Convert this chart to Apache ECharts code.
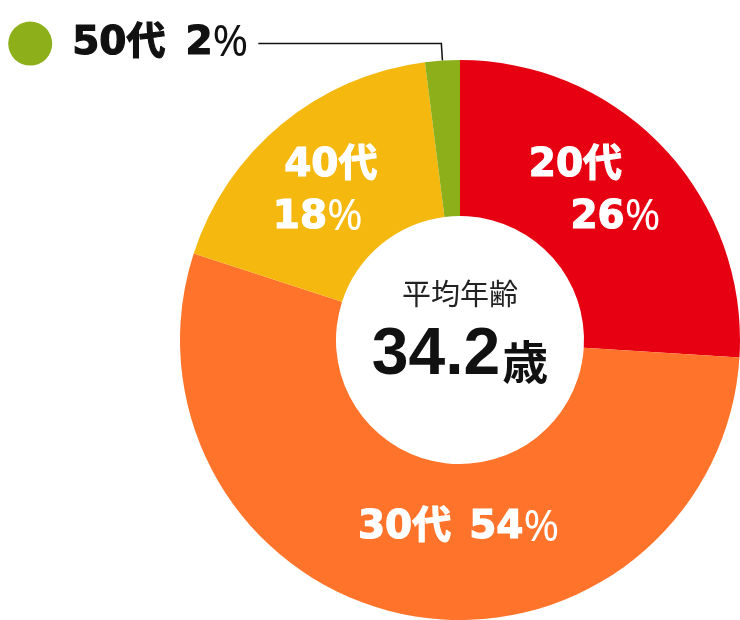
<!DOCTYPE html>
<html>
<head>
<meta charset="utf-8">
<script src="https://cdn.jsdelivr.net/npm/echarts@6/dist/echarts.min.js"></script>
<style>
html,body{margin:0;padding:0;background:#fff;}
#chart{width:740px;height:620px;}
</style>
</head>
<body>
<div id="chart"></div>
<script>
const categories = ['20代', '30代', '40代', '50代'];
const shares = [26, 54, 18, 2];
const sliceColors = ['#E60012', '#FF742A', '#F5B80F', '#8DAF19'];
const centerTitle = '平均年齢';
const averageAge = 34.2;
const ageUnit = '歳';

const numFont = '"DejaVu Sans", "Noto Sans CJK JP", sans-serif';
const pctFont = '"Noto Sans", sans-serif';

function richFor(color) {
  const base = { fontFamily: numFont, fontWeight: 'bold', fontSize: 39, color: color, lineHeight: 52, verticalAlign: 'middle', textBorderColor: color, textBorderWidth: 1.2 };
  const pct = { fontFamily: pctFont, fontWeight: 'normal', fontSize: 43, color: color, lineHeight: 52, verticalAlign: 'middle' };
  return {
    t: Object.assign({}, base),
    tl: Object.assign({}, base, { padding: [0, 0, 0, 13] }),
    tr: Object.assign({}, base, { padding: [0, 40, 0, 0] }),
    nl: Object.assign({}, base, { padding: [0, 0, 0, 40] }),
    n: Object.assign({}, base),
    p: Object.assign({}, pct),
    pr: Object.assign({}, pct, { padding: [0, 13, 0, 0] }),
    sp: { width: 18, lineHeight: 52 },
    gap: { width: 20, lineHeight: 52 },
    dgap: { width: 20, lineHeight: 52 },
    dot: { width: 44, height: 44, borderRadius: 22, backgroundColor: sliceColors[3], verticalAlign: 'middle' }
  };
}

const labelFormats = [
  (c, v) => `{tr|${c}}\n{nl|${v}}{p|%}`,
  (c, v) => `{t|${c}}{sp|}{n|${v}}{p|%}`,
  (c, v) => `{tl|${c}}\n{n|${v}}{pr|%}`,
  (c, v) => `{dot|}{dgap|}{t|${c}}{gap|}{n|${v}}{p|%}`
];
const labelOffsets = [[-14, -8], [37, -13], [-5, 10], [0, 0]];

const data = categories.map((c, i) => {
  const item = {
    name: c,
    value: shares[i],
    itemStyle: { color: sliceColors[i] }
  };
  if (i < 3) {
    item.label = {
      show: true,
      position: 'inside',
      offset: labelOffsets[i],
      formatter: () => labelFormats[i](c, shares[i]),
      rich: richFor('#ffffff')
    };
    item.labelLine = { show: false };
  } else {
    item.label = {
      show: true,
      position: 'outside',
      distanceToLabelLine: 10,
      formatter: () => labelFormats[i](c, shares[i]),
      rich: richFor('#111111')
    };
    item.labelLine = {
      show: true,
      length: 17,
      length2: 183,
      lineStyle: { color: '#111', width: 1.5 }
    };
  }
  return item;
});

const chart = echarts.init(document.getElementById('chart'), null, { renderer: 'canvas' });
chart.setOption({
  backgroundColor: '#ffffff',
  animation: false,
  series: [{
    type: 'pie',
    center: [460, 340],
    radius: [124, 280],
    startAngle: 90,
    clockwise: true,
    avoidLabelOverlap: false,
    silent: true,
    itemStyle: { borderWidth: 0 },
    data: data
  }],
  graphic: [
    {
      type: 'text',
      z: 100,
      style: {
        text: centerTitle,
        x: 460, y: 294,
        align: 'center', verticalAlign: 'middle',
        font: '29px "Noto Sans CJK JP", sans-serif',
        fill: '#222'
      }
    },
    {
      type: 'text',
      z: 100,
      style: {
        text: `{n|${averageAge}}{u|${ageUnit}}`,
        x: 460, y: 356,
        align: 'center', verticalAlign: 'middle',
        rich: {
          n: { fontFamily: '"Liberation Sans", Arial, sans-serif', fontWeight: 'bold', fontSize: 66, fill: '#111', verticalAlign: 'middle' },
          u: { fontFamily: '"Noto Sans CJK JP", sans-serif', fontWeight: 'bold', fontSize: 46, fill: '#111', verticalAlign: 'bottom', padding: [0, 0, 4, 2] }
        }
      }
    }
  ]
});
</script>
</body>
</html>
